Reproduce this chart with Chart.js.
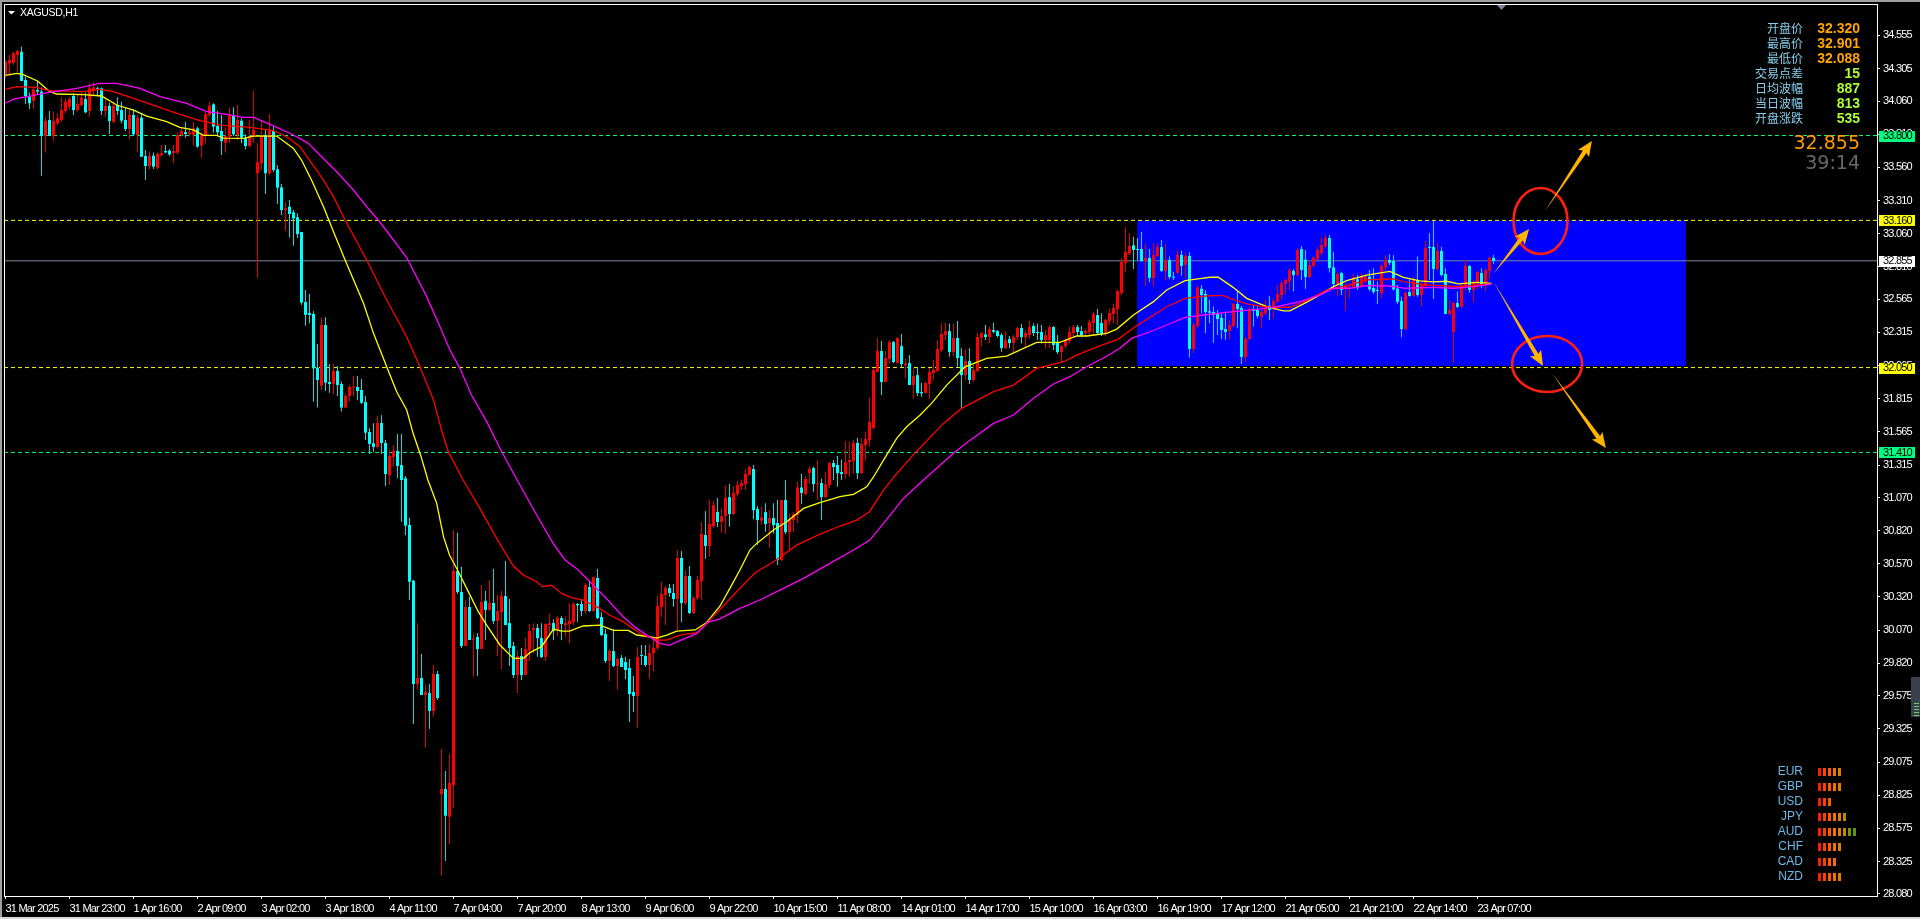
<!DOCTYPE html>
<html>
<head>
<meta charset="utf-8">
<title>XAGUSD,H1</title>
<script src="https://cdn.jsdelivr.net/npm/chart.js@4/dist/chart.umd.min.js"></script>
<style>
    html, body { margin: 0; padding: 0; background: #000; overflow: hidden; }
    #wrap { width: 1920px; height: 919px; }
    canvas { display: block; }
</style>
</head>
<body>
<div id="wrap"><canvas id="chart" width="1920" height="919"></canvas></div>
<script>
const opens = [
34.256,34.344,34.349,34.407,34.432,34.219,34.093,34.060,34.143,34.131,
33.796,33.917,33.796,33.892,33.917,33.985,34.018,34.098,33.992,34.030,
34.075,33.985,34.138,34.156,34.156,33.985,34.023,33.904,34.030,33.992,
33.917,33.849,33.955,33.804,33.935,33.645,33.570,33.648,33.557,33.653,
33.683,33.686,33.666,33.671,33.804,33.826,33.809,33.804,33.854,33.723,
33.804,33.955,34.035,33.872,33.834,33.746,33.791,33.955,33.804,33.912,
33.779,33.721,33.796,33.515,33.590,33.804,33.515,33.834,33.545,33.409,
33.238,33.263,33.221,33.183,33.073,32.545,32.462,32.454,32.049,31.914,
32.371,31.941,31.926,32.024,31.926,31.748,31.836,31.899,31.904,31.881,
31.790,31.564,31.479,31.451,31.632,31.481,31.240,31.376,31.421,31.315,
31.215,30.863,30.443,29.663,29.709,29.580,29.596,29.460,29.739,28.834,
28.872,28.663,28.902,30.516,30.357,29.950,30.244,29.998,30.018,29.927,
30.289,30.222,30.274,30.139,30.206,30.327,30.123,29.950,29.731,29.875,
29.731,29.920,30.071,30.086,30.010,29.867,30.108,30.123,30.071,30.161,
30.108,30.116,30.131,30.267,30.267,30.214,30.395,30.214,30.463,30.169,
30.041,29.837,29.912,29.799,29.860,29.829,29.784,29.603,29.573,29.882,
29.875,29.807,29.897,29.935,30.244,30.335,30.387,30.350,30.304,30.614,
30.274,30.478,30.199,30.312,30.440,30.787,30.704,30.855,30.961,30.885,
30.930,31.073,30.945,31.096,31.156,31.171,31.239,31.285,30.983,30.895,
30.960,30.875,30.915,30.877,30.598,31.051,30.809,30.900,30.938,31.146,
31.096,31.254,31.292,31.169,31.179,31.073,31.164,31.330,31.315,31.262,
31.247,31.337,31.345,31.481,31.254,31.466,31.503,31.594,32.019,32.175,
31.941,32.114,32.242,32.084,32.212,32.069,32.084,31.918,31.993,31.865,
31.858,31.926,32.009,32.024,32.182,32.295,32.325,32.167,32.273,32.137,
31.993,32.099,31.956,32.024,32.275,32.300,32.280,32.333,32.325,32.295,
32.197,32.265,32.235,32.280,32.348,32.280,32.295,32.363,32.318,32.318,
32.257,32.257,32.355,32.235,32.167,32.212,32.250,32.310,32.355,32.325,
32.310,32.318,32.386,32.446,32.386,32.310,32.401,32.454,32.491,32.613,
32.839,32.912,32.972,32.942,32.944,32.854,32.877,32.726,32.892,32.959,
32.779,32.861,32.733,32.763,32.899,32.824,32.892,32.190,32.364,32.645,
32.605,32.474,32.469,32.459,32.424,32.341,32.326,32.364,32.530,32.499,
32.130,32.266,32.492,32.484,32.432,32.459,32.515,32.499,32.547,32.597,
32.680,32.703,32.779,32.748,32.944,32.864,32.733,32.816,32.869,32.914,
32.967,33.027,32.806,32.680,32.763,32.643,32.665,32.655,32.716,32.660,
32.698,32.736,32.650,32.635,32.613,32.809,32.861,32.854,32.645,32.552,
32.341,32.620,32.590,32.711,32.597,32.665,32.959,32.959,32.794,32.929,
32.756,32.454,32.318,32.537,32.507,32.665,32.816,32.635,32.691,32.763,
32.673,32.778,32.877];
const highs = [
34.369,34.407,34.432,34.445,34.470,34.244,34.123,34.168,34.206,34.163,
33.942,33.985,33.980,33.967,34.088,34.080,34.088,34.118,34.106,34.131,
34.123,34.193,34.201,34.168,34.163,34.093,34.048,34.055,34.088,34.055,
34.005,33.992,33.997,33.955,33.967,33.691,33.678,33.671,33.671,33.728,
33.728,33.698,33.728,33.824,33.867,33.904,33.854,33.904,33.867,33.821,
33.980,34.055,34.043,33.985,33.955,33.862,34.010,34.013,34.030,33.930,
33.809,33.917,34.136,33.741,33.912,33.842,33.962,33.867,33.578,33.434,
33.301,33.314,33.238,33.213,33.073,32.635,32.605,32.477,32.228,32.427,
32.432,32.077,32.077,32.062,31.944,31.856,31.919,31.987,31.987,31.964,
31.836,31.592,31.630,31.685,31.692,31.504,31.433,31.466,31.549,31.549,
31.232,30.918,30.448,30.121,29.890,29.656,29.663,29.807,29.762,29.173,
29.007,29.135,30.825,30.805,30.548,30.297,30.322,30.046,30.046,30.410,
30.365,30.448,30.531,30.335,30.365,30.591,30.304,29.980,29.920,29.935,
30.010,30.116,30.121,30.116,30.121,30.121,30.196,30.151,30.176,30.176,
30.171,30.274,30.282,30.274,30.304,30.425,30.433,30.470,30.531,30.204,
30.078,29.927,30.078,29.870,29.882,29.870,29.852,29.724,29.942,29.958,
29.958,29.965,29.995,30.327,30.433,30.403,30.418,30.418,30.674,30.666,
30.523,30.553,30.327,30.478,30.885,30.968,31.051,31.044,31.066,30.988,
31.164,31.171,31.156,31.194,31.202,31.285,31.310,31.315,31.006,31.000,
31.026,30.975,31.026,31.051,31.051,31.202,30.950,30.963,31.189,31.247,
31.232,31.302,31.302,31.352,31.214,31.264,31.340,31.352,31.383,31.357,
31.496,31.491,31.503,31.518,31.516,31.566,31.825,32.044,32.275,32.250,
32.177,32.257,32.250,32.283,32.303,32.119,32.144,32.051,32.051,31.936,
31.943,32.044,32.107,32.257,32.383,32.388,32.383,32.383,32.401,32.195,
32.187,32.195,32.069,32.313,32.320,32.371,32.358,32.388,32.333,32.308,
32.320,32.288,32.295,32.358,32.378,32.333,32.401,32.383,32.383,32.371,
32.333,32.368,32.363,32.295,32.220,32.270,32.358,32.371,32.371,32.363,
32.338,32.408,32.471,32.491,32.459,32.416,32.496,32.534,32.635,32.874,
33.108,33.063,33.037,33.025,33.073,32.987,32.942,32.987,32.987,33.012,
32.982,32.887,32.773,32.932,32.932,32.919,32.922,32.389,32.673,32.673,
32.635,32.560,32.510,32.484,32.459,32.472,32.409,32.540,32.635,32.515,
32.283,32.510,32.522,32.510,32.484,32.560,32.590,32.572,32.673,32.706,
32.721,32.799,32.794,32.949,32.967,32.937,32.861,32.892,32.962,33.032,
33.053,33.050,32.924,32.773,32.773,32.685,32.685,32.756,32.748,32.761,
32.756,32.786,32.799,32.698,32.836,32.899,32.904,32.899,32.673,32.585,
32.630,32.723,32.736,32.887,32.698,33.005,33.063,33.156,32.987,32.962,
32.799,32.560,32.547,32.623,32.690,32.861,32.824,32.711,32.781,32.799,
32.799,32.887,32.901];
const lows = [
34.231,34.256,34.332,34.281,34.211,34.038,34.000,34.000,34.106,33.497,
33.671,33.796,33.761,33.879,33.904,33.967,33.997,33.955,33.980,34.018,
33.967,33.942,34.106,34.106,33.955,33.942,33.811,33.892,33.955,33.892,
33.834,33.771,33.796,33.678,33.640,33.464,33.545,33.547,33.547,33.640,
33.666,33.645,33.590,33.658,33.791,33.784,33.791,33.723,33.708,33.633,
33.741,33.942,33.821,33.796,33.653,33.671,33.741,33.796,33.766,33.741,
33.696,33.711,33.746,32.730,33.540,33.359,33.502,33.527,33.283,33.200,
33.080,33.030,32.969,33.027,32.522,32.366,32.384,31.793,31.748,31.881,
31.873,31.861,31.851,31.836,31.718,31.743,31.793,31.836,31.806,31.775,
31.504,31.398,31.416,31.441,31.398,31.157,31.164,31.303,31.215,30.888,
30.787,30.297,29.362,29.623,29.580,29.183,29.324,29.417,29.543,28.218,
28.328,28.457,28.728,30.342,29.935,29.950,29.995,29.719,29.724,29.927,
29.995,30.214,30.116,29.875,29.777,30.108,29.799,29.709,29.596,29.694,
29.731,29.837,29.895,29.870,29.860,29.837,30.020,29.995,30.025,29.995,
30.020,29.970,30.108,30.131,30.176,30.196,30.206,30.206,30.154,30.025,
29.822,29.686,29.792,29.618,29.792,29.701,29.377,29.452,29.332,29.807,
29.794,29.701,29.761,29.920,30.169,30.108,30.322,30.247,30.071,30.131,
30.259,30.191,30.191,30.297,30.297,30.606,30.621,30.840,30.848,30.807,
30.794,30.850,30.938,31.076,31.126,31.126,31.239,30.907,30.711,30.862,
30.812,30.691,30.799,30.561,30.591,30.794,30.674,30.812,30.875,31.021,
31.088,31.176,31.114,31.051,30.900,31.063,31.139,31.202,31.151,31.202,
31.214,31.227,31.252,31.209,31.247,31.347,31.453,31.584,32.011,31.843,
31.941,32.082,32.082,32.082,32.051,31.968,31.918,31.815,31.835,31.830,
31.855,31.812,31.956,32.019,32.169,32.257,32.132,32.132,32.056,31.742,
31.956,31.926,31.943,32.019,32.212,32.257,32.237,32.308,32.278,32.169,
32.190,32.195,32.162,32.257,32.232,32.207,32.270,32.288,32.257,32.232,
32.195,32.195,32.182,32.152,32.087,32.195,32.232,32.283,32.288,32.278,
32.283,32.283,32.295,32.295,32.288,32.288,32.371,32.383,32.371,32.598,
32.773,32.899,32.794,32.861,32.849,32.665,32.693,32.660,32.882,32.771,
32.711,32.716,32.711,32.756,32.743,32.723,32.125,32.158,32.346,32.459,
32.308,32.384,32.238,32.296,32.263,32.258,32.263,32.354,32.346,32.077,
32.090,32.258,32.359,32.421,32.346,32.447,32.409,32.414,32.540,32.560,
32.603,32.635,32.623,32.741,32.711,32.643,32.726,32.806,32.861,32.899,
32.949,32.766,32.640,32.585,32.597,32.477,32.572,32.648,32.635,32.653,
32.685,32.630,32.605,32.530,32.567,32.786,32.824,32.630,32.530,32.276,
32.334,32.585,32.585,32.585,32.510,32.655,32.711,32.567,32.786,32.736,
32.454,32.447,32.085,32.497,32.504,32.630,32.615,32.540,32.640,32.648,
32.623,32.718,32.831];
const closes = [
34.357,34.369,34.420,34.437,34.211,34.098,34.043,34.148,34.131,33.796,
33.912,33.796,33.909,33.930,33.992,34.055,34.075,33.992,34.038,34.085,
33.975,34.156,34.163,34.148,33.985,34.023,33.909,34.025,33.985,33.912,
33.849,33.955,33.809,33.935,33.640,33.570,33.645,33.565,33.661,33.666,
33.673,33.658,33.683,33.804,33.834,33.811,33.824,33.854,33.716,33.804,
33.960,34.025,33.867,33.824,33.759,33.796,33.955,33.809,33.917,33.784,
33.721,33.796,33.842,33.598,33.804,33.515,33.837,33.540,33.407,33.238,
33.251,33.208,33.175,33.057,32.540,32.447,32.447,32.044,31.956,32.371,
31.936,31.926,32.024,31.919,31.748,31.836,31.904,31.904,31.873,31.785,
31.559,31.474,31.451,31.632,31.481,31.247,31.383,31.421,31.308,31.202,
30.858,30.435,29.663,29.709,29.580,29.603,29.460,29.739,29.558,28.872,
28.670,28.917,30.516,30.357,29.950,30.244,29.995,30.003,29.927,30.282,
30.222,30.274,30.139,30.214,30.327,30.108,29.935,29.731,29.875,29.731,
29.927,30.063,30.086,30.010,29.867,30.116,30.123,30.063,30.161,30.116,
30.123,30.139,30.267,30.257,30.214,30.410,30.214,30.470,30.161,30.033,
29.837,29.912,29.799,29.852,29.792,29.769,29.588,29.573,29.867,29.875,
29.807,29.897,29.935,30.252,30.342,30.387,30.350,30.304,30.614,30.274,
30.478,30.199,30.312,30.448,30.795,30.704,30.870,31.013,30.885,30.930,
31.068,30.945,31.104,31.164,31.179,31.247,31.300,30.975,30.900,30.920,
30.870,30.915,30.862,30.598,31.051,30.809,30.907,30.945,31.146,31.104,
31.209,31.285,31.171,31.176,31.073,31.171,31.330,31.300,31.254,31.247,
31.337,31.352,31.481,31.254,31.473,31.511,31.639,32.031,32.175,31.941,
32.122,32.242,32.092,32.273,32.076,32.082,31.918,31.986,31.858,31.855,
31.933,32.016,32.031,32.190,32.303,32.325,32.167,32.273,32.122,31.993,
32.099,31.956,32.031,32.280,32.308,32.280,32.340,32.320,32.288,32.197,
32.257,32.235,32.280,32.348,32.280,32.310,32.355,32.310,32.310,32.257,
32.295,32.355,32.220,32.167,32.212,32.257,32.318,32.355,32.318,32.295,
32.325,32.393,32.454,32.310,32.300,32.408,32.461,32.499,32.627,32.846,
32.922,32.967,32.937,32.937,32.854,32.877,32.726,32.899,32.959,32.779,
32.861,32.733,32.728,32.899,32.816,32.892,32.190,32.371,32.655,32.597,
32.469,32.464,32.447,32.416,32.334,32.318,32.371,32.530,32.492,32.130,
32.266,32.492,32.477,32.439,32.472,32.510,32.484,32.552,32.605,32.685,
32.711,32.786,32.748,32.937,32.786,32.733,32.824,32.877,32.937,32.975,
33.027,32.801,32.680,32.756,32.635,32.673,32.673,32.731,32.655,32.741,
32.736,32.640,32.620,32.628,32.816,32.861,32.839,32.640,32.545,32.341,
32.613,32.590,32.718,32.597,32.680,32.952,32.952,32.794,32.929,32.748,
32.454,32.484,32.537,32.507,32.673,32.816,32.635,32.698,32.771,32.673,
32.786,32.877,32.855];

// moving averages: [bar, price]
const maYellow = [
[0,34.254],[2.8,34.269],[4,34.264],[8,34.211],[11.1,34.131],[12.8,34.113],[19.5,34.108],[24,34.098],[27.8,34.030],[32,33.992],
[35.3,33.947],[40.3,33.904],[43.6,33.862],[47,33.842],[49.5,33.801],[52.8,33.801],[54.5,33.781],[59.5,33.779],[62,33.796],[67.8,33.796],
[72,33.703],[74,33.615],[76.5,33.464],[79.5,33.263],[82,33.075],[84.9,32.861],[89.5,32.535],[92,32.308],[95.3,32.057],[97.8,31.868],
[100.3,31.730],[101.9,31.554],[103.9,31.378],[105.6,31.202],[107.8,31.026],[109.5,30.775],[111,30.636],[113,30.523],[115.7,30.360],[118.2,30.209],
[120.3,30.108],[123.6,29.958],[127,29.857],[129.5,29.857],[131.1,29.900],[134,29.945],[137,30.078],[139,30.063],[141,30.063],[144.4,30.101],
[148.6,30.108],[152,30.068],[155.7,30.068],[157.8,30.033],[161,30.020],[162.8,30.010],[165.3,30.033],[167.8,30.063],[172.4,30.071],[175.2,30.125],
[178.6,30.250],[181.1,30.385],[183.6,30.523],[186.1,30.674],[187.8,30.724],[192,30.825],[195.3,30.887],[199.5,30.988],[203.6,31.031],[208.6,31.076],
[212,31.094],[215.3,31.151],[217,31.225],[219.5,31.352],[222.8,31.516],[225.3,31.604],[228.6,31.690],[231.5,31.780],[235.3,31.918],[239.9,32.056],
[245.3,32.119],[250.3,32.137],[254.5,32.195],[257.8,32.240],[263.6,32.240],[267.8,32.288],[270.3,32.288],[275.3,32.308],[277.8,32.340],[282,32.447],
[287,32.547],[290.3,32.635],[294.9,32.706],[298.6,32.721],[301.1,32.731],[303.2,32.731],[306.9,32.655],[310.3,32.572],[315.3,32.510],[319.5,32.477],
[321.1,32.477],[324.5,32.530],[327.8,32.585],[332,32.660],[335.3,32.706],[340.3,32.748],[346.1,32.776],[349.5,32.731],[353.6,32.703],[357,32.696],
[360.3,32.701],[363.2,32.681],[367.8,32.693],[371.5,32.685]];
const maRed = [
[0,34.148],[2.8,34.168],[7.8,34.163],[11,34.138],[19.5,34.131],[23.6,34.148],[27,34.131],[32,34.080],[36,34.038],[42.8,33.967],
[48.6,33.912],[53.6,33.879],[61,33.862],[67,33.837],[70.3,33.791],[73.6,33.716],[76,33.615],[79.5,33.464],[82,33.339],[84.9,33.163],
[90.3,32.861],[95.3,32.560],[100.3,32.283],[103.6,32.057],[107,31.806],[109,31.579],[110.7,31.416],[114.4,31.202],[118.6,30.988],[122.8,30.762],
[125.3,30.636],[127,30.553],[129.5,30.485],[132.8,30.435],[134.2,30.398],[136.5,30.408],[139,30.347],[141.5,30.315],[144.4,30.297],[147.8,30.247],
[151,30.184],[154.4,30.134],[158.6,30.046],[162.8,29.995],[165.3,29.995],[168.6,30.033],[172.8,30.051],[175.7,30.134],[178.6,30.225],[182.8,30.359],
[187.4,30.503],[192,30.586],[197.8,30.711],[202.8,30.782],[208.6,30.855],[212.8,30.900],[216,30.963],[219.5,31.126],[222.8,31.250],[227.5,31.410],
[234.5,31.629],[239,31.742],[247,31.868],[252,31.918],[257.8,32.044],[264.5,32.094],[267.8,32.144],[273.2,32.210],[278.2,32.265],[282.5,32.359],
[290.3,32.509],[294.9,32.572],[301.1,32.592],[304.5,32.592],[306.1,32.572],[310.3,32.530],[315.3,32.505],[321.1,32.505],[325.3,32.555],[330.3,32.635],
[336.1,32.673],[340.3,32.711],[347,32.718],[349.5,32.698],[354.9,32.673],[360.3,32.665],[363.2,32.660],[367.8,32.673],[371.5,32.680]];
const maMagenta = [
[0,34.043],[2,34.075],[5.3,34.093],[11,34.126],[17.8,34.156],[23.6,34.193],[27.8,34.193],[33.6,34.156],[38.6,34.093],[45.3,34.043],
[50.3,33.980],[55.3,33.960],[59.4,33.937],[62,33.937],[67,33.872],[72,33.804],[75.7,33.741],[78.6,33.653],[82.8,33.527],[87,33.389],
[90.3,33.263],[93.2,33.163],[97,33.012],[100.3,32.880],[105.3,32.585],[108.6,32.359],[111.1,32.183],[113.6,32.044],[116.5,31.843],[120.3,31.642],
[123.6,31.441],[127.9,31.202],[132.8,30.938],[136.9,30.724],[139.9,30.599],[143.2,30.523],[146.9,30.410],[151,30.284],[154.4,30.171],[157.8,30.083],
[161,30.020],[163.6,29.970],[165.9,29.955],[168.6,29.990],[172.8,30.043],[175.7,30.130],[178.6,30.155],[183.6,30.234],[188.6,30.297],[193.6,30.372],
[199.5,30.460],[206.1,30.573],[212,30.674],[216.1,30.749],[219.5,30.875],[224.5,31.063],[229.5,31.202],[237,31.403],[240.3,31.483],[247,31.629],
[252,31.692],[257,31.818],[262,31.926],[266.1,31.981],[270.3,32.056],[275.3,32.135],[278.6,32.195],[281.5,32.270],[286.1,32.320],[290.3,32.371],
[294.9,32.429],[301.1,32.452],[306.9,32.472],[312.8,32.489],[317.8,32.510],[323.6,32.547],[328.6,32.597],[332,32.648],[336.1,32.648],[340.3,32.668],
[346.1,32.665],[349.9,32.648],[357,32.655],[362,32.648],[367,32.660],[371.5,32.680]];

const timeLabels = ['31 Mar 2025','31 Mar 23:00','1 Apr 16:00','2 Apr 09:00','3 Apr 02:00','3 Apr 18:00','4 Apr 11:00','7 Apr 04:00',
    '7 Apr 20:00','8 Apr 13:00','9 Apr 06:00','9 Apr 22:00','10 Apr 15:00','11 Apr 08:00','14 Apr 01:00','14 Apr 17:00',
    '15 Apr 10:00','16 Apr 03:00','16 Apr 19:00','17 Apr 12:00','21 Apr 05:00','21 Apr 21:00','22 Apr 14:00','23 Apr 07:00'];
const priceTicks = [34.555,34.305,34.060,33.810,33.560,33.310,33.060,32.810,32.565,32.315,32.065,31.815,31.565,31.315,31.070,
    30.820,30.570,30.320,30.070,29.820,29.575,29.325,29.075,28.825,28.575,28.325,28.080];

const levelGreen = [33.800, 31.410];
const levelYellow = [33.160, 32.050];
const lastPrice = 32.855;

const boxBars = [282.9, 420.1];
const boxPrices = [32.062, 33.160];
// [fromBar, fromPrice, toBar, toPrice]
const arrows = [[371.9,32.756,380.9,33.095],[384.9,33.231,396.6,33.759],[371.9,32.703,384.4,32.062],[386.6,32.009,400.1,31.444]];
// [bar, price, bars radius, price radius]
const circles = [[383.75,33.155,6.75,0.249],[385.4,32.077,8.75,0.211]];

const infoNames = ['开盘价','最高价','最低价','交易点差','日均波幅','当日波幅','开盘涨跌'];
const infoValues = ['32.320','32.901','32.088','15','887','813','535'];
const currencies = ['EUR','GBP','USD','JPY','AUD','CHF','CAD','NZD'];
const currencyBars = [5,5,3,6,8,5,4,5];
const strengthColors = ['#ff1a00','#ff4000','#ff5a00','#f57000','#e08000','#bd8a00','#7f9400','#5f9c00'];

const UP = '#ff0000', DOWN = '#00ffff';
const barIdx = opens.map((v, i) => i);
const isUp = i => closes[i] >= opens[i];
const xMin = -0.375, xMax = 467.875;

const toPoints = list => list.map(p => ({ x: p[0], y: p[1] }));
const hLine = (price, color, dash) => ({
    type: 'line', data: [{ x: xMin, y: price }, { x: xMax, y: price }], borderColor: color,
    borderWidth: 1, borderDash: dash, pointRadius: 0, order: 9,
});
const maLine = (list, color) => ({
    type: 'line', data: toPoints(list), borderColor: color, borderWidth: 1.3, pointRadius: 0, tension: 0, order: 1,
});

const AXIS_FONT = '"Liberation Sans", sans-serif';
const TIGHT = '-0.8px';

// plot frame, the blue box and everything the terminal paints over the chart
const overlay = {
    id: 'overlay',
    beforeDraw(chart) {
        chart.ctx.letterSpacing = TIGHT;
    },
    beforeDatasetsDraw(chart) {
        const { ctx, scales: { x, y } } = chart;
        ctx.save();
        ctx.fillStyle = '#0000ff';
        ctx.fillRect(x.getPixelForValue(boxBars[0]), y.getPixelForValue(boxPrices[1]),
            x.getPixelForValue(boxBars[1]) - x.getPixelForValue(boxBars[0]),
            y.getPixelForValue(boxPrices[0]) - y.getPixelForValue(boxPrices[1]));
        ctx.restore();
    },
    afterDraw(chart) {
        const { ctx, chartArea: a, scales: { x, y } } = chart;
        ctx.save();

        // window edges
        ctx.fillStyle = '#a0a0a0';
        ctx.fillRect(0, 0, 1920, 2);
        ctx.fillRect(0, 0, 2, 919);
        ctx.fillStyle = '#d8d8d8';
        ctx.fillRect(0, 917, 1920, 2);

        // frame
        ctx.strokeStyle = '#fff';
        ctx.lineWidth = 1;
        ctx.strokeRect(a.left + 0.5, a.top - 0.5, a.right - a.left, a.bottom - a.top + 1);

        // shift marker
        ctx.fillStyle = '#778899';
        ctx.beginPath();
        ctx.moveTo(1497, 5); ctx.lineTo(1506, 5); ctx.lineTo(1501.5, 10);
        ctx.closePath(); ctx.fill();

        // price tags
        ctx.font = '11px ' + AXIS_FONT;
        ctx.letterSpacing = TIGHT;
        ctx.textBaseline = 'middle';
        ctx.textAlign = 'left';
        const tag = (price, bg) => {
            const py = y.getPixelForValue(price);
            ctx.fillStyle = bg;
            ctx.fillRect(1879, Math.round(py) - 5, 36, 11);
            ctx.fillStyle = '#000';
            ctx.fillText(price.toFixed(3), 1883, py + 0.5);
        };
        levelGreen.forEach(p => tag(p, '#00ff7f'));
        levelYellow.forEach(p => tag(p, '#ffff00'));
        tag(lastPrice, '#ffffff');

        // symbol title
        ctx.fillStyle = '#fff';
        ctx.beginPath();
        ctx.moveTo(8, 11); ctx.lineTo(15, 11); ctx.lineTo(11.5, 14.5);
        ctx.closePath(); ctx.fill();
        ctx.font = '10.5px ' + AXIS_FONT;
        ctx.letterSpacing = '-0.3px';
        ctx.fillText('XAGUSD,H1', 20, 13);
        ctx.letterSpacing = '0px';

        // circles
        ctx.strokeStyle = '#ff2010';
        ctx.lineWidth = 2.6;
        circles.forEach(c => {
            const cx = x.getPixelForValue(c[0]), cy = y.getPixelForValue(c[1]);
            const rx = x.getPixelForValue(c[0] + c[2]) - cx, ry = cy - y.getPixelForValue(c[1] + c[3]);
            ctx.beginPath();
            ctx.ellipse(cx, cy, rx, ry, 0, 0, Math.PI * 2);
            ctx.stroke();
        });

        // tapered arrows
        ctx.fillStyle = '#ffb400';
        arrows.forEach(r => {
            const x0 = x.getPixelForValue(r[0]), y0 = y.getPixelForValue(r[1]);
            const x1 = x.getPixelForValue(r[2]), y1 = y.getPixelForValue(r[3]);
            const len = Math.hypot(x1 - x0, y1 - y0);
            const ux = (x1 - x0) / len, uy = (y1 - y0) / len;
            const nx = -uy, ny = ux;
            const bx = x1 - ux * 13, by = y1 - uy * 13;
            ctx.beginPath();
            ctx.moveTo(x0, y0);
            ctx.lineTo(bx + nx * 2.2, by + ny * 2.2);
            ctx.lineTo(bx + nx * 6.5 - ux * 2, by + ny * 6.5 - uy * 2);
            ctx.lineTo(x1, y1);
            ctx.lineTo(bx - nx * 6.5 - ux * 2, by - ny * 6.5 - uy * 2);
            ctx.lineTo(bx - nx * 2.2, by - ny * 2.2);
            ctx.closePath();
            ctx.fill();
        });

        // info panel
        ctx.textAlign = 'right';
        infoNames.forEach((name, i) => {
            const rowY = 28.5 + i * 15;
            ctx.font = '12px "Noto Sans CJK SC", sans-serif';
            ctx.fillStyle = '#87ceeb';
            ctx.fillText(name, 1803, rowY);
            ctx.font = 'bold 14px "Liberation Sans", sans-serif';
            ctx.fillStyle = i < 3 ? '#ffa500' : '#adff2f';
            ctx.fillText(infoValues[i], 1860, rowY + 0.5);
        });
        ctx.font = '19px "DejaVu Sans", sans-serif';
        ctx.fillStyle = '#ff9900';
        ctx.fillText(lastPrice.toFixed(3), 1860, 144);
        ctx.fillStyle = '#696969';
        ctx.fillText('39:14', 1860, 164);

        // currency strength
        currencies.forEach((name, i) => {
            const rowY = 771.5 + i * 15;
            ctx.textAlign = 'right';
            ctx.font = '12px "Liberation Sans", sans-serif';
            ctx.fillStyle = '#6cb8e6';
            ctx.fillText(name, 1803, rowY);
            for (let k = 0; k < currencyBars[i]; k++) {
                ctx.fillStyle = strengthColors[k];
                ctx.fillRect(1818 + k * 5, rowY - 3.5, 3, 8);
            }
        });

        // side handle
        ctx.fillStyle = '#39424c';
        ctx.fillRect(1911, 677, 9, 40);
        ctx.fillStyle = '#6fcf6f';
        for (let k = 0; k < 5; k++) ctx.fillRect(1914, 703 + k * 3, 5, 1);

        ctx.restore();
    },
};

new Chart(document.getElementById('chart'), {
    type: 'bar',
    data: {
        datasets: [
            hLine(levelGreen[0], '#00ff7f', [4, 3]),
            hLine(levelGreen[1], '#00ff7f', [4, 3]),
            hLine(levelYellow[0], '#ffff00', [4, 3]),
            hLine(levelYellow[1], '#ffff00', [4, 3]),
            hLine(lastPrice, '#778899', []),
            {
                data: barIdx.map(i => ({ x: i, y: [lows[i], highs[i]] })),
                backgroundColor: barIdx.map(i => (isUp(i) ? '#e00000' : '#00e0e0')),
                barThickness: 1, grouped: false, inflateAmount: 0, order: 5,
            },
            {
                data: barIdx.map(i => ({ x: i, y: [opens[i], closes[i]] })),
                backgroundColor: barIdx.map(i => (isUp(i) ? UP : DOWN)),
                barThickness: 3, grouped: false, inflateAmount: 0, minBarLength: 1, order: 4,
            },
            maLine(maMagenta, '#ff00ff'),
            maLine(maRed, '#ff0000'),
            maLine(maYellow, '#ffff00'),
        ],
    },
    options: {
        responsive: false,
        animation: false,
        layout: { padding: { left: 4, top: 5, right: 0, bottom: 0 } },
        plugins: { legend: { display: false }, tooltip: { enabled: false } },
        scales: {
            x: {
                type: 'linear',
                offset: false,
                min: xMin,
                max: xMax,
                grid: { offset: false, drawOnChartArea: false, drawTicks: true, tickLength: 3, color: '#fff' },
                border: { color: '#fff' },
                afterFit(s) { s.height = 23; s.paddingLeft = 0; s.paddingRight = 0; },
                afterBuildTicks(s) { s.ticks = timeLabels.map((l, i) => ({ value: i * 16 })); },
                ticks: {
                    color: '#fff', align: 'start', maxRotation: 0, autoSkip: false, padding: 3,
                    font: { family: AXIS_FONT, size: 11 },
                    callback: value => timeLabels[value / 16],
                },
            },
            y: {
                position: 'right',
                min: 28.0648,
                max: 34.7843,
                grid: { drawOnChartArea: false, drawTicks: true, tickLength: 3, color: '#fff' },
                border: { color: '#fff' },
                afterFit(s) { s.width = 43; s.paddingTop = 0; s.paddingBottom = 0; },
                afterBuildTicks(s) { s.ticks = priceTicks.map(v => ({ value: v })); },
                ticks: {
                    color: '#fff', padding: 3, autoSkip: false,
                    font: { family: AXIS_FONT, size: 11 },
                    callback: value => value.toFixed(3),
                },
            },
        },
    },
    plugins: [overlay],
});
</script>
</body>
</html>
